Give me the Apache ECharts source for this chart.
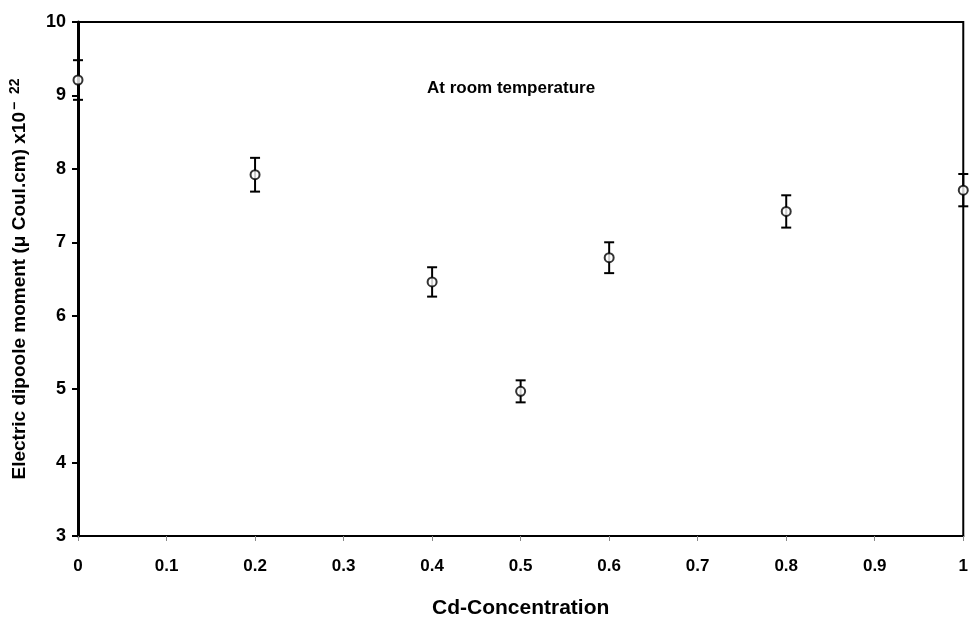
<!DOCTYPE html>
<html>
<head>
<meta charset="utf-8">
<script src="https://cdn.jsdelivr.net/npm/echarts@6/dist/echarts.min.js"></script>
<style>
  html, body { margin: 0; padding: 0; background: #fff; }
  #chart { width: 971px; height: 624px; }
</style>
</head>
<body>
<div id="chart"></div>
<script>
// Cd concentration vs electric dipole moment (x10^-22 uC.cm)
const concentration = [0, 0.2, 0.4, 0.5, 0.6, 0.8, 1.0];
const dipoleMoment = [9.21, 7.92, 6.46, 4.97, 6.79, 7.42, 7.71];
const errorSize = [0.27, 0.23, 0.2, 0.15, 0.21, 0.22, 0.22];

const font = 'Liberation Sans, Arial, sans-serif';

const points = concentration.map((x, i) => [x, dipoleMoment[i]]);
const bars = concentration.map((x, i) => [x, dipoleMoment[i] - errorSize[i], dipoleMoment[i] + errorSize[i]]);

const chart = echarts.init(document.getElementById('chart'));

const option = {
  animation: false,
  title: {
    text: 'At room temperature',
    left: 422,
    top: 75,
    textStyle: { fontFamily: font, fontSize: 17, fontWeight: 'bold', color: '#000' },
  },
  grid: {
    left: 77,
    right: 5,
    top: 22,
    bottom: 73,
    show: true,
    borderColor: '#000',
    borderWidth: 2,
  },
  xAxis: {
    type: 'value',
    min: 0,
    max: 1,
    interval: 0.1,
    name: 'Cd-Concentration',
    nameLocation: 'middle',
    nameGap: 62,
    nameTextStyle: { fontFamily: font, fontSize: 21, fontWeight: 'bold', color: '#000' },
    axisLine: { lineStyle: { color: '#000', width: 2 } },
    axisTick: { inside: false, length: 5, lineStyle: { color: '#888', width: 1 } },
    axisLabel: { margin: 22, fontFamily: font, fontSize: 17, fontWeight: 'bold', color: '#000' },
    splitLine: { show: false },
  },
  yAxis: {
    type: 'value',
    min: 3,
    max: 10,
    interval: 1,
    name: 'Electric dipoole moment (\u03bc Coul.cm) x10{sup|\u2212  22}',
    nameLocation: 'middle',
    nameGap: 47,
    nameTextStyle: {
      fontFamily: font, fontSize: 19, fontWeight: 'bold', color: '#000',
      rich: {
        sup: { fontFamily: font, fontSize: 14, fontWeight: 'bold', color: '#000', verticalAlign: 'top', padding: [0, 0, 9, 2] },
      },
    },
    axisLine: { show: true, lineStyle: { color: '#000', width: 3 } },
    axisTick: { show: true, length: 6, lineStyle: { color: '#000', width: 2 } },
    axisLabel: { margin: 12, fontFamily: font, fontSize: 18, fontWeight: 'bold', color: '#000' },
    splitLine: { show: false },
  },
  series: [
    {
      type: 'custom',
      clip: false,
      data: bars,
      z: 2,
      renderItem: (params, api) => {
        const x = api.value(0);
        const lo = api.coord([x, api.value(1)]);
        const hi = api.coord([x, api.value(2)]);
        const hw = 5;
        const style = { stroke: '#000', lineWidth: 2 };
        return {
          type: 'group',
          children: [
            { type: 'line', shape: { x1: lo[0], y1: lo[1], x2: hi[0], y2: hi[1] }, style },
            { type: 'line', shape: { x1: lo[0] - hw, y1: lo[1], x2: lo[0] + hw, y2: lo[1] }, style },
            { type: 'line', shape: { x1: hi[0] - hw, y1: hi[1], x2: hi[0] + hw, y2: hi[1] }, style },
          ],
        };
      },
    },
    {
      type: 'scatter',
      clip: false,
      data: points,
      symbol: 'circle',
      symbolSize: 9,
      z: 3,
      itemStyle: { color: '#fff', borderColor: '#000', borderWidth: 2 },
    },
  ],
};

chart.setOption(option);
</script>
</body>
</html>
